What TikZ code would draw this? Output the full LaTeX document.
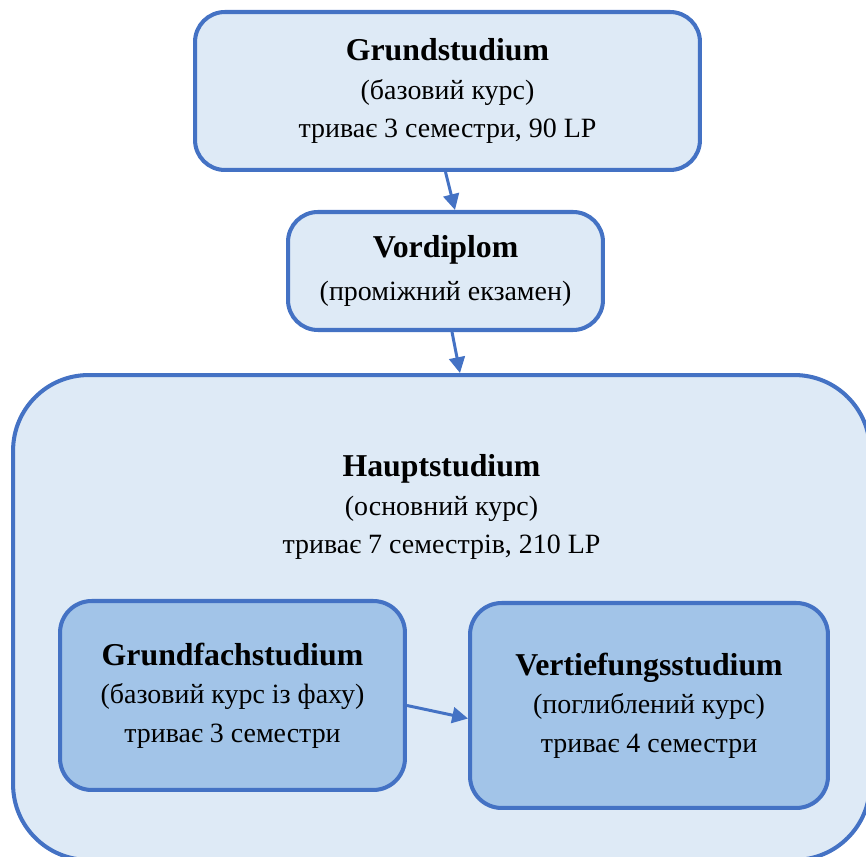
\documentclass[tikz,border=0pt]{standalone}
\usepackage{fontspec}
\setmainfont{Liberation Serif}
\usetikzlibrary{arrows.meta, positioning, calc}

\definecolor{edgeblue}{HTML}{4472C4}
\definecolor{paleblue}{HTML}{DEEAF6}
\definecolor{midblue}{HTML}{A2C4E8}

\newcommand{\hd}{\fontsize{18.1}{22}\selectfont\bfseries}

\begin{document}
\begin{tikzpicture}[
    x=0.02cm, y=-0.02cm,
    font=\fontsize{15.9}{22}\selectfont,
    box/.style={draw=edgeblue, line width=2.3pt, fill=paleblue, rounded corners=17pt,
                align=center, inner sep=0pt},
    sub/.style={box, fill=midblue, rounded corners=18pt},
    outer/.style={box, rounded corners=43pt},
    txt/.style={align=center, inner sep=0pt},
    flow/.style={-{Triangle[length=9pt, width=9pt]}, line width=1.7pt, draw=edgeblue},
]
    \useasboundingbox (0,0) rectangle (866,857);

    % --- top level boxes ---
    \node[box, minimum width=10.1cm, minimum height=3.16cm] (grund) at (447.5,91)
        {{\hd Grundstudium}\\(базовий курс)\\триває 3 семестри, 90 LP};
    \node[box, minimum width=6.3cm, minimum height=2.36cm] (vord) at (445.5,271)
        {{\hd Vordiplom}\\[2pt](проміжний екзамен)};

    % --- main study block ---
    \node[outer, minimum width=17.14cm, minimum height=9.7cm] (haupt) at (441.5,617.5) {};
    \node[txt] (hauptlbl) at (441.5,507)
        {{\hd Hauptstudium}\\(основний курс)\\триває 7 семестрів, 210 LP};

    \node[sub, minimum width=6.9cm, minimum height=3.78cm] (gfach) at (232.5,695.5)
        {{\hd Grundfachstudium}\\(базовий курс із фаху)\\триває 3 семестри};
    \node[sub, minimum width=7.16cm, minimum height=4.1cm] (vert) at (649,705.5)
        {{\hd Vertiefungsstudium}\\(поглиблений курс)\\триває 4 семестри};

    % --- connectors ---
    \draw[flow] ($(grund.south)+(-2,0)$) -- ($(vord.north)+(9.5,0)$);
    \draw[flow] ($(vord.south)+(6.5,0)$) -- ($(haupt.north)+(18.5,0)$);
    \draw[flow] ($(gfach.east)+(0,10)$) -- ($(vert.west)+(0,13)$);
\end{tikzpicture}
\end{document}
